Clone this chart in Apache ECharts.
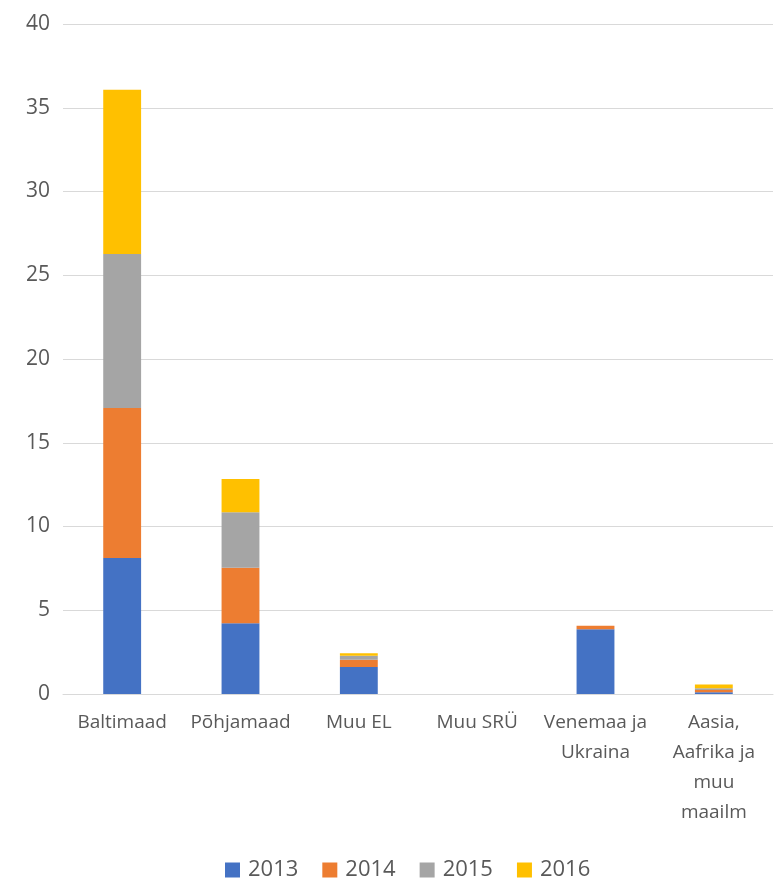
<!DOCTYPE html>
<html><head><meta charset="utf-8">
<script src="https://cdn.jsdelivr.net/npm/echarts@6/dist/echarts.min.js"></script>
<style>html,body{margin:0;padding:0;background:#fff}#c{width:775px;height:878px}</style>
</head><body><div id="c"></div>
<script>
const categories = ["Baltimaad", "Põhjamaad", "Muu EL", "Muu SRÜ", "Venemaa ja\nUkraina", "Aasia,\nAafrika ja\nmuu\nmaailm"];
const years = ["2013", "2014", "2015", "2016"];
const v2013 = [8.12, 4.22, 1.61, 0, 3.86, 0.1];
const v2014 = [8.95, 3.32, 0.44, 0, 0.22, 0.14];
const v2015 = [9.2, 3.31, 0.24, 0, 0, 0.1];
const v2016 = [9.8, 1.99, 0.14, 0, 0, 0.22];
const yTicks = [0, 5, 10, 15, 20, 25, 30, 35, 40];
const colors = ["#4472C4", "#ED7D31", "#A5A5A5", "#FFC000"];
const values = [v2013, v2014, v2015, v2016];
const font = "'Open Sans', sans-serif";
const chart = echarts.init(document.getElementById('c'));
chart.setOption({
  animation: false,
  textStyle: {fontFamily: font},
  grid: {left: 63, right: 2, top: 24, bottom: 184},
  legend: {
    left: 220, top: 854,
    itemWidth: 15, itemHeight: 15, itemGap: 24,
    icon: 'rect',
    textStyle: {fontSize: 22, color: '#595959', fontFamily: font, padding: [0, 0, 0, 3]},
    data: years
  },
  xAxis: {
    type: 'category', data: categories,
    axisTick: {show: false},
    axisLine: {lineStyle: {color: '#D9D9D9', width: 1}},
    axisLabel: {fontSize: 19, color: '#595959', lineHeight: 30, margin: 14, interval: 0, fontFamily: font}
  },
  yAxis: {
    type: 'value', min: yTicks[0], max: yTicks[yTicks.length-1], interval: 5,
    axisLine: {show: false}, axisTick: {show: false},
    splitLine: {lineStyle: {color: '#D9D9D9', width: 1}},
    axisLabel: {fontSize: 21, color: '#595959', margin: 13, fontFamily: font}
  },
  series: years.map((y, i) => ({
    name: y, type: 'bar', stack: 'total', data: values[i],
    barWidth: '32%',
    itemStyle: {color: colors[i]}
  }))
});
</script></body></html>
